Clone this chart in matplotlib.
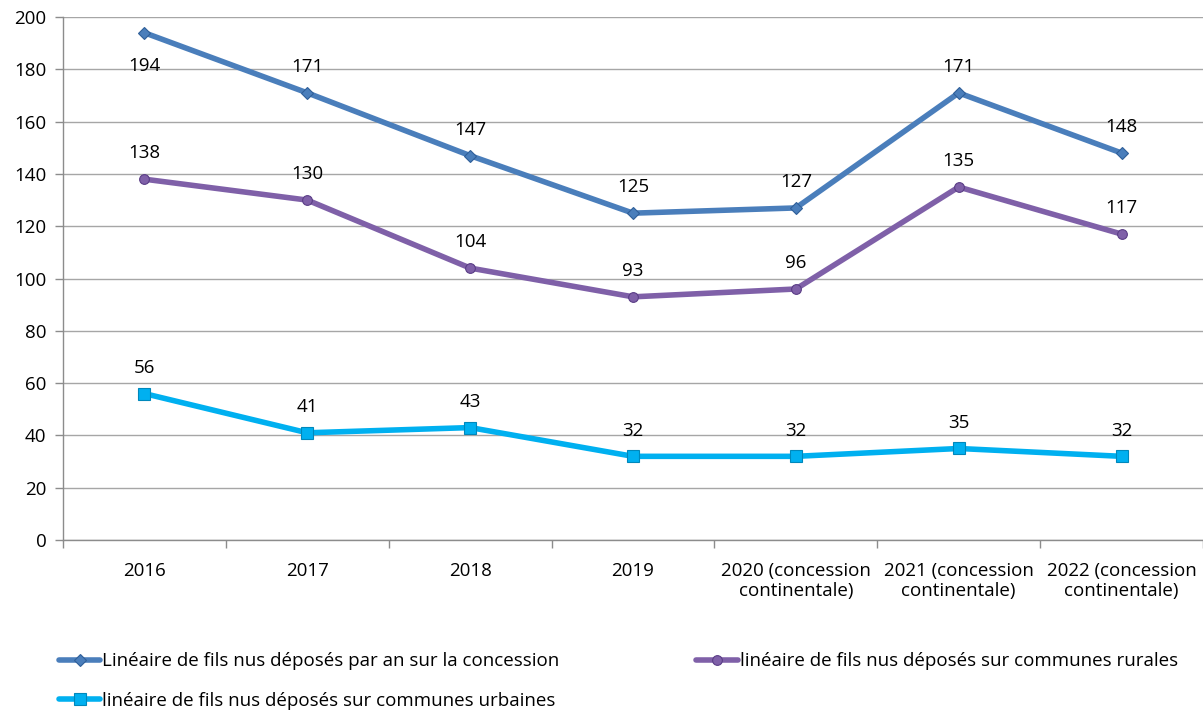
import matplotlib.pyplot as plt

plt.rcParams["font.family"] = ["Open Sans", "DejaVu Sans"]
plt.rcParams["font.size"] = 13

categories = ["2016", "2017", "2018", "2019",
              "2020 (concession\ncontinentale)",
              "2021 (concession\ncontinentale)",
              "2022 (concession\ncontinentale)"]
total = [194, 171, 147, 125, 127, 171, 148]
rurales = [138, 130, 104, 93, 96, 135, 117]
urbaines = [56, 41, 43, 32, 32, 35, 32]

labels = [
    "Linéaire de fils nus déposés par an sur la concession",
    "linéaire de fils nus déposés sur communes rurales",
    "linéaire de fils nus déposés sur communes urbaines",
]

COLORS = {
    "total": "#4A7EBB",
    "rurales": "#7F60A8",
    "urbaines": "#00B0F0",
}

fig = plt.figure(figsize=(12.03, 7.11), dpi=100)
ax = fig.add_axes([0.0524, 0.2405, 0.9476, 0.7355])

x = list(range(len(categories)))
series = [
    (total, COLORS["total"], "D", 6, "#2F5F99"),
    (rurales, COLORS["rurales"], "o", 7, "#5A3D86"),
    (urbaines, COLORS["urbaines"], "s", 8, "#0088BB"),
]

handles = []
for (vals, color, marker, ms, edge), lab in zip(series, labels):
    line, = ax.plot(x, vals, color=color, linewidth=4.0, marker=marker,
                    markersize=ms, markerfacecolor=color, markeredgecolor=edge,
                    markeredgewidth=0.8, solid_capstyle="round", zorder=3, label=lab)
    handles.append(line)
    for i, v in enumerate(vals):
        dy = -24 if v > 185 else 18.5
        ax.annotate(str(v), (i, v), xytext=(0, dy), textcoords="offset points",
                    ha="center", va="center", fontsize=13.5, color="black")

ax.set_xlim(-0.5, len(categories) - 0.5)
ax.set_ylim(0, 200)
ax.set_yticks(range(0, 201, 20))
ax.grid(axis="y", color="#A6A6A6", linewidth=1.0, zorder=0)

ax.set_xticks(x)
ax.set_xticklabels(categories, fontsize=13.5, linespacing=1.15)
ax.tick_params(axis="x", which="major", length=0, pad=16)
ax.set_xticks([i - 0.5 for i in range(len(categories) + 1)], minor=True)
ax.tick_params(axis="x", which="minor", length=6, color="#8C8C8C", width=1)
ax.tick_params(axis="y", length=6, color="#8C8C8C", width=1, labelsize=13.5, pad=6)

for side in ["top", "right"]:
    ax.spines[side].set_visible(False)
for side in ["left", "bottom"]:
    ax.spines[side].set_color("#8C8C8C")
    ax.spines[side].set_linewidth(1)

leg = fig.legend([handles[0], handles[2], handles[1]],
                 [labels[0], labels[2], labels[1]],
                 ncol=2, loc="upper left", bbox_to_anchor=(0.043, 0.093),
                 frameon=False, fontsize=13.5, handlelength=2.2, handletextpad=0.1,
                 columnspacing=7.3, labelspacing=1.15, borderaxespad=0)

fig.savefig("out.png", dpi=100, facecolor="white")
